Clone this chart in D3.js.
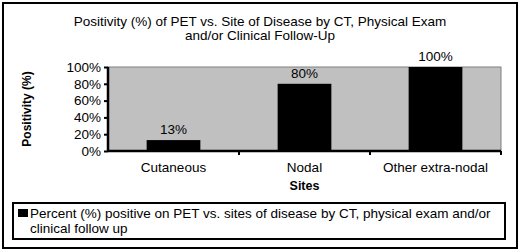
<!DOCTYPE html>
<html>
<head>
<meta charset="utf-8">
<script src="https://cdn.jsdelivr.net/npm/d3@7"></script>
<style>
  body { margin: 0; background: #fff; }
  svg text { font-family: "Liberation Sans", Arial, sans-serif; fill: #000; }
</style>
</head>
<body>
<div id="chart"></div>
<script>
// data
var sites = ['Cutaneous', 'Nodal', 'Other extra-nodal'];
var positivity = [13, 80, 100];
var yTicks = [0, 20, 40, 60, 80, 100];
var titleLines = ['Positivity (%) of PET vs. Site of Disease by CT, Physical Exam', 'and/or Clinical Follow-Up'];
var legendLines = ['Percent (%) positive on PET vs. sites of disease by CT, physical exam and/or', 'clinical follow up'];

// dimensions
var dimensions = {
  width: 520,
  height: 251,
  margin: { top: 67, bottom: 100, left: 108, right: 19 }
};
dimensions.containerWidth = dimensions.width - dimensions.margin.left - dimensions.margin.right;
dimensions.containerHeight = dimensions.height - dimensions.margin.top - dimensions.margin.bottom;

var fontSize = '13.5px';

var svg = d3.select('#chart')
  .append('svg')
  .attr('width', dimensions.width)
  .attr('height', dimensions.height);

// outer frame
svg.append('rect')
  .attr('x', 3).attr('y', 3)
  .attr('width', 514).attr('height', 245)
  .attr('fill', '#fff')
  .attr('stroke', '#000')
  .attr('stroke-width', 2);

// title
svg.append('g').selectAll('text')
  .data(titleLines)
  .join('text')
  .attr('x', 260)
  .attr('y', (d, i) => 25.5 + i * 14.5)
  .attr('text-anchor', 'middle')
  .style('font-size', fontSize)
  .text(d => d);

var container = svg.append('g')
  .attr('transform', 'translate(' + dimensions.margin.left + ',' + dimensions.margin.top + ')');

// scales
var xScale = d3.scaleBand()
  .domain(sites)
  .range([0, dimensions.containerWidth])
  .paddingInner(0.59)
  .paddingOuter(0.295);

var xBoundary = d3.scaleBand()
  .domain(sites)
  .range([0, dimensions.containerWidth]);

var yScale = d3.scaleLinear()
  .domain([0, 100])
  .range([dimensions.containerHeight, 0]);

// plot background
container.append('rect')
  .attr('width', dimensions.containerWidth)
  .attr('height', dimensions.containerHeight)
  .attr('fill', '#c0c0c0')
  .attr('stroke', '#808080')
  .attr('stroke-width', 1);

// bars
container.selectAll('rect.bar')
  .data(positivity)
  .join('rect')
  .attr('class', 'bar')
  .attr('x', (d, i) => xScale(sites[i]))
  .attr('y', d => yScale(d))
  .attr('width', xScale.bandwidth())
  .attr('height', d => dimensions.containerHeight - yScale(d))
  .attr('fill', '#000');

// value labels
container.selectAll('text.value')
  .data(positivity)
  .join('text')
  .attr('class', 'value')
  .attr('x', (d, i) => xScale(sites[i]) + xScale.bandwidth() / 2)
  .attr('y', d => yScale(d) - 6)
  .attr('text-anchor', 'middle')
  .style('font-size', fontSize)
  .text(d => d + '%');

// axes
var yAxis = d3.axisLeft(yScale)
  .tickValues(yTicks)
  .tickSize(4)
  .tickPadding(3)
  .tickFormat(d => d + '%');

var yAxisGroup = container.append('g').call(yAxis);
yAxisGroup.select('.domain').attr('stroke', '#000').attr('stroke-width', 2.5).attr('d', 'M0,0V' + dimensions.containerHeight);
yAxisGroup.selectAll('.tick line').attr('stroke-width', 2);
yAxisGroup.selectAll('.tick text').style('font-size', fontSize).attr('fill', '#000');

var xAxisGroup = container.append('g')
  .attr('transform', 'translate(0,' + dimensions.containerHeight + ')');

xAxisGroup.append('line')
  .attr('x1', 0).attr('x2', dimensions.containerWidth)
  .attr('stroke', '#000').attr('stroke-width', 2.5);

xAxisGroup.selectAll('line.tick')
  .data(sites)
  .join('line')
  .attr('class', 'tick')
  .attr('x1', d => xBoundary(d) + xBoundary.bandwidth())
  .attr('x2', d => xBoundary(d) + xBoundary.bandwidth())
  .attr('y1', 0).attr('y2', 4)
  .attr('stroke', '#000').attr('stroke-width', 2);

xAxisGroup.selectAll('text.cat')
  .data(sites)
  .join('text')
  .attr('class', 'cat')
  .attr('x', d => xBoundary(d) + xBoundary.bandwidth() / 2)
  .attr('y', 21)
  .attr('text-anchor', 'middle')
  .style('font-size', fontSize)
  .text(d => d);

xAxisGroup.append('text')
  .attr('x', dimensions.containerWidth / 2)
  .attr('y', 39)
  .attr('text-anchor', 'middle')
  .style('font-size', '12.5px')
  .style('font-weight', 'bold')
  .text('Sites');

yAxisGroup.append('text')
  .attr('transform', 'rotate(-90)')
  .attr('x', -dimensions.containerHeight / 2)
  .attr('y', -77)
  .attr('text-anchor', 'middle')
  .style('font-size', '12px')
  .style('font-weight', 'bold')
  .attr('fill', '#000')
  .text('Positivity (%)');

// legend
var legend = svg.append('g');
legend.append('rect')
  .attr('x', 13).attr('y', 203)
  .attr('width', 492).attr('height', 36)
  .attr('fill', '#fff')
  .attr('stroke', '#000')
  .attr('stroke-width', 2);
legend.append('rect')
  .attr('x', 18).attr('y', 209)
  .attr('width', 10).attr('height', 8)
  .attr('fill', '#000');
legend.selectAll('text')
  .data(legendLines)
  .join('text')
  .attr('x', 30)
  .attr('y', (d, i) => 218 + i * 14.5)
  .style('font-size', fontSize)
  .text(d => d);
</script>
</body>
</html>
